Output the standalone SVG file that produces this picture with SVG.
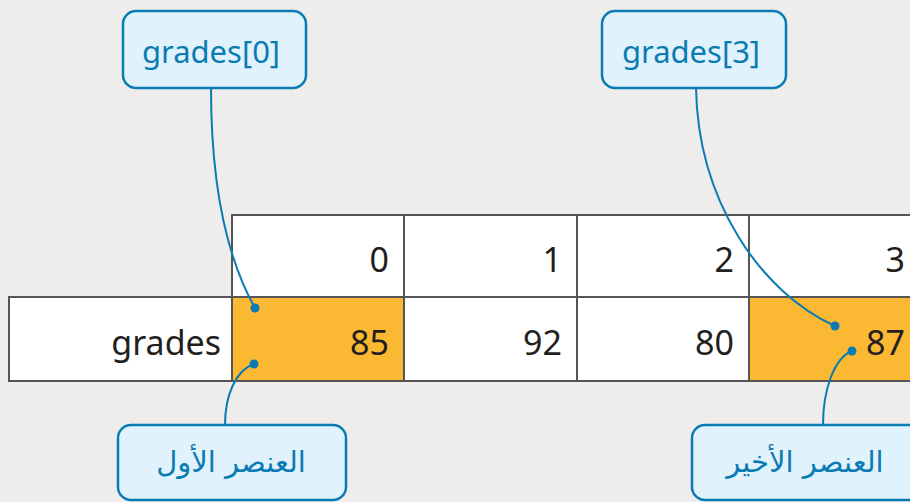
<svg xmlns="http://www.w3.org/2000/svg" width="910" height="502" viewBox="0 0 910 502">
<style>
.cell{stroke:#555;stroke-width:2}
.w{fill:#fff}
.o{fill:#FBB832}
.t{font-family:"Noto Sans","Open Sans",sans-serif;font-size:34px;fill:#231f20;text-anchor:end}
.box{fill:#E0F2FB;stroke:#0B7BB3;stroke-width:2.5}
.lbl{font-family:"Noto Sans","Open Sans",sans-serif;font-size:31px;fill:#0B7BB3;text-anchor:middle}
.ar{font-family:"DejaVu Sans","Noto Sans",sans-serif;font-size:29px;fill:#0B7BB3;text-anchor:middle}
.con{fill:none;stroke:#0B7BB3;stroke-width:2}
.dot{fill:#0B7BB3}
</style>
<rect x="0" y="0" width="910" height="502" fill="#EEEDEC"/>
<g id="table">
<rect class="cell w" x="232" y="215" width="172" height="82"/>
<rect class="cell w" x="404" y="215" width="173" height="82"/>
<rect class="cell w" x="577" y="215" width="172" height="82"/>
<rect class="cell w" x="749" y="215" width="172" height="82"/>
<rect class="cell w" x="9" y="297" width="223" height="84"/>
<rect class="cell o" x="232" y="297" width="172" height="84"/>
<rect class="cell w" x="404" y="297" width="173" height="84"/>
<rect class="cell w" x="577" y="297" width="172" height="84"/>
<rect class="cell o" x="749" y="297" width="172" height="84"/>
<text class="t" x="389" y="272">0</text>
<text class="t" x="562" y="272">1</text>
<text class="t" x="734" y="272">2</text>
<text class="t" x="905" y="272">3</text>
<text class="t" x="221" y="355">grades</text>
<text class="t" x="389" y="355">85</text>
<text class="t" x="562" y="355">92</text>
<text class="t" x="734" y="355">80</text>
<text class="t" x="905" y="355">87</text>
</g>
<g id="connectors">
<path class="con" d="M211,88 C211,190 228,260 255,308"/>
<circle class="dot" cx="255" cy="308" r="4.5"/>
<path class="con" d="M225,425 C225,395 236,370 254,364"/>
<circle class="dot" cx="254" cy="364" r="4.5"/>
<path class="con" d="M696,88 C698,200 760,292 835,326"/>
<circle class="dot" cx="835" cy="326" r="4.5"/>
<path class="con" d="M823,425 C823,390 834,358 852,351"/>
<circle class="dot" cx="852" cy="351" r="4.5"/>
</g>
<g id="label-first">
<rect class="box" x="123" y="11" width="183" height="77" rx="13"/>
<text class="lbl" x="211" y="63">grades[0]</text>
</g>
<g id="label-last">
<rect class="box" x="602" y="11" width="184" height="77" rx="13"/>
<text class="lbl" x="691" y="63">grades[3]</text>
</g>
<g id="first-element">
<rect class="box" x="118" y="425" width="228" height="75" rx="13"/>
<text class="ar" x="231" y="472" direction="rtl">العنصر الأول</text>
</g>
<g id="last-element">
<rect class="box" x="692" y="425" width="240" height="75" rx="13"/>
<text class="ar" x="805" y="472" direction="rtl">العنصر الأخير</text>
</g>
</svg>
